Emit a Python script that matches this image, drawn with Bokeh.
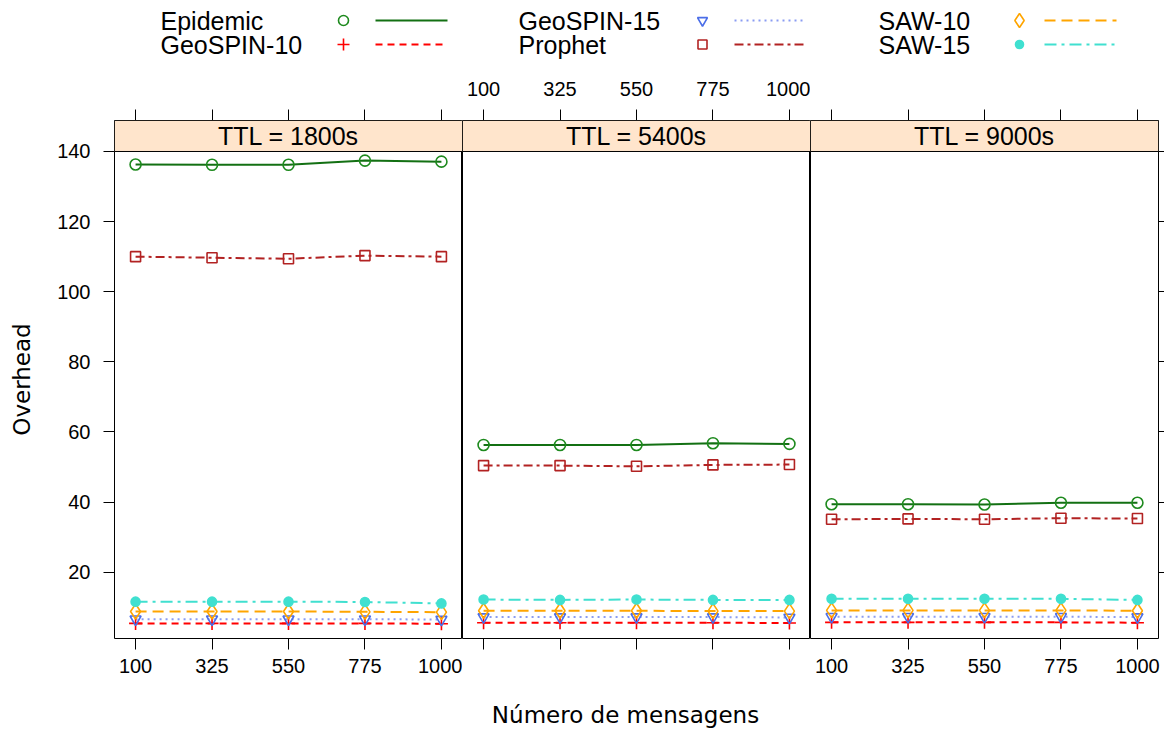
from bokeh.plotting import figure
from bokeh.layouts import column, row
from bokeh.models import Range1d, LinearAxis, FixedTicker, BoxAnnotation, Label
from bokeh.embed import file_html
from bokeh.resources import INLINE
from bokeh.core.properties import value

# ---------------- data ----------------
messages = [100, 325, 550, 775, 1000]
ttl_labels = ["TTL = 1800s", "TTL = 5400s", "TTL = 9000s"]
y_ticks = [20, 40, 60, 80, 100, 120, 140]

epidemic = [[136.3, 136.2, 136.2, 137.4, 137.1],
            [56.3, 56.3, 56.3, 56.8, 56.6],
            [39.4, 39.4, 39.3, 39.8, 39.8]]
geospin10 = [[5.4, 5.4, 5.4, 5.4, 5.3],
             [5.6, 5.6, 5.6, 5.6, 5.5],
             [5.7, 5.7, 5.7, 5.7, 5.6]]
geospin15 = [[6.6, 6.6, 6.6, 6.6, 6.5],
             [7.2, 7.2, 7.2, 7.2, 7.1],
             [7.3, 7.3, 7.3, 7.3, 7.2]]
prophet = [[110.0, 109.7, 109.4, 110.3, 110.0],
           [50.4, 50.4, 50.2, 50.6, 50.7],
           [35.1, 35.2, 35.1, 35.4, 35.3]]
saw10 = [[8.8, 8.8, 8.8, 8.7, 8.6],
         [9.0, 9.0, 9.0, 8.9, 8.9],
         [9.1, 9.1, 9.1, 9.1, 9.0]]
saw15 = [[11.6, 11.6, 11.6, 11.5, 11.1],
         [12.2, 12.1, 12.2, 12.1, 12.1],
         [12.4, 12.4, 12.4, 12.4, 12.1]]

series_names = ["Epidemic", "GeoSPIN-10", "GeoSPIN-15", "Prophet", "SAW-10", "SAW-15"]
series_values = [epidemic, geospin10, geospin15, prophet, saw10, saw15]

# ---------------- styles ----------------
styles = {
    "Epidemic":   dict(color="#1E8A1E", lcolor="#137013", dash="solid", marker="circle", size=11, fill=None),
    "GeoSPIN-10": dict(color="#FF0000", lcolor="#FF0000", dash="7 5", marker="cross", size=13, fill=None),
    "GeoSPIN-15": dict(color="#4B6EE8", lcolor="#8A9CF2", dash="2 4", marker="inverted_triangle", size=11, fill=None),
    "Prophet":    dict(color="#B22222", lcolor="#B22222", dash="9 4 3 4", marker="square", size=10, fill=None),
    "SAW-10":     dict(color="#FFA500", lcolor="#FFA500", dash="11 6", marker="diamond", size=15, fill=None),
    "SAW-15":     dict(color="#40E0D0", lcolor="#40E0D0", dash="12 5 3 5", marker="circle", size=9, fill="#40E0D0"),
}

FONT = "Liberation Sans"
FRAME_W, FRAME_H = 348, 518
X_RANGE = (38, 1062)
Y_RANGE = (1.09, 148.84)
STRIP_BOTTOM = 140.0
TOP_B, BOT_B = 60, 46
LEFT_B, RIGHT_B = 114, 6


def axis_common(ax, standoff, tick=11):
    ax.axis_line_color = None
    ax.major_tick_out = tick
    ax.major_tick_in = 0
    ax.minor_tick_out = 0
    ax.minor_tick_in = 0
    ax.major_tick_line_color = "black"
    ax.major_tick_line_width = 1
    ax.major_label_standoff = standoff
    ax.major_label_text_font = FONT
    ax.major_label_text_font_size = "20px"
    ax.major_label_text_color = "black"


panels = []
for i in range(3):
    left_b = LEFT_B if i == 0 else 0
    right_b = RIGHT_B if i == 2 else 0
    p = figure(title=None, frame_width=FRAME_W, frame_height=FRAME_H,
               x_range=Range1d(*X_RANGE), y_range=Range1d(*Y_RANGE),
               x_axis_location=None, y_axis_location=None,
               output_backend="svg", toolbar_location=None,
               min_border_left=left_b, min_border_right=right_b,
               min_border_top=TOP_B, min_border_bottom=BOT_B)
    p.xgrid.visible = False
    p.ygrid.visible = False
    p.outline_line_color = "black"
    p.outline_line_width = 1
    p.background_fill_color = "white"
    p.border_fill_color = "white"

    # axes
    bottom = LinearAxis(ticker=FixedTicker(ticks=messages))
    axis_common(bottom, 9)
    top = LinearAxis(ticker=FixedTicker(ticks=messages))
    axis_common(top, 14)
    if i == 1:
        bottom.major_label_overrides = {t: "" for t in messages}
    else:
        top.major_label_overrides = {t: "" for t in messages}
    p.add_layout(bottom, "below")
    p.add_layout(top, "above")
    if i == 0:
        left = LinearAxis(ticker=FixedTicker(ticks=y_ticks))
        axis_common(left, 13)
        left.axis_label = "Overhead"
        left.axis_label_text_font = "DejaVu Sans"
        left.axis_label_text_font_size = "23px"
        left.axis_label_text_font_style = "normal"
        left.axis_label_text_color = "black"
        left.axis_label_standoff = 19
        p.add_layout(left, "left")
    if i == 2:
        right = LinearAxis(ticker=FixedTicker(ticks=y_ticks))
        axis_common(right, 0, tick=RIGHT_B)
        right.major_label_overrides = {t: "" for t in y_ticks}
        p.add_layout(right, "right")

    # strip
    p.add_layout(BoxAnnotation(bottom=STRIP_BOTTOM, fill_color="#FFE5CC", fill_alpha=1.0,
                               line_color="black", line_width=1, line_alpha=1.0))
    p.add_layout(Label(x=(X_RANGE[0] + X_RANGE[1]) / 2, y=(STRIP_BOTTOM + Y_RANGE[1]) / 2,
                       text=ttl_labels[i], text_align="center", text_baseline="middle",
                       text_font=FONT, text_font_size="25px", text_color="black"))

    # series
    for name, vals in zip(series_names, series_values):
        st = styles[name]
        p.line(messages, vals[i], line_color=st["lcolor"], line_width=2, line_dash=st["dash"])
    for name, vals in zip(series_names, series_values):
        st = styles[name]
        p.scatter(messages, vals[i], marker=st["marker"], size=st["size"],
                  line_color=st["color"], line_width=1.6,
                  fill_color=st["fill"], fill_alpha=1.0 if st["fill"] else 0)
    panels.append(p)

TOTAL_W = LEFT_B + 3 * FRAME_W + RIGHT_B

# ---------------- legend ----------------
LEG_H = 60
leg = figure(title=None, width=TOTAL_W, height=LEG_H, x_range=Range1d(0, TOTAL_W),
             y_range=Range1d(LEG_H, 0), x_axis_location=None, y_axis_location=None,
             output_backend="svg", toolbar_location=None, min_border=0)
leg.xgrid.visible = False
leg.ygrid.visible = False
leg.outline_line_color = None

text_x = [160, 518, 878]
marker_x = [343, 702, 1019]
line_x0 = [375, 734, 1044]
line_x1 = [447, 806, 1116]
row_y = [20, 44]

for k, name in enumerate(series_names):
    st = styles[name]
    c, r = k // 2, k % 2
    leg.text([text_x[c]], [row_y[r]], text=[name], text_font=value(FONT),
             text_font_size=value("25px"), text_baseline="middle", text_align="left",
             text_color="black")
    leg.scatter([marker_x[c]], [row_y[r]], marker=st["marker"], size=st["size"] - 1,
                line_color=st["color"], line_width=1.6,
                fill_color=st["fill"], fill_alpha=1.0 if st["fill"] else 0)
    leg.segment([line_x0[c]], [row_y[r]], [line_x1[c]], [row_y[r]],
                line_color=st["lcolor"], line_width=2, line_dash=st["dash"])

# ---------------- x label ----------------
XL_H = 44
xl = figure(title=None, width=TOTAL_W, height=XL_H, x_range=Range1d(0, TOTAL_W),
            y_range=Range1d(XL_H, 0), x_axis_location=None, y_axis_location=None,
            output_backend="svg", toolbar_location=None, min_border=0)
xl.xgrid.visible = False
xl.ygrid.visible = False
xl.outline_line_color = None
xl.text([625], [30], text=["Número de mensagens"], text_font=value("DejaVu Sans"),
        text_font_size=value("23px"), text_baseline="middle", text_align="center",
        text_color="black")

layout = column(leg, row(*panels), xl)

open("out.html", "w").write(file_html(layout, INLINE))
